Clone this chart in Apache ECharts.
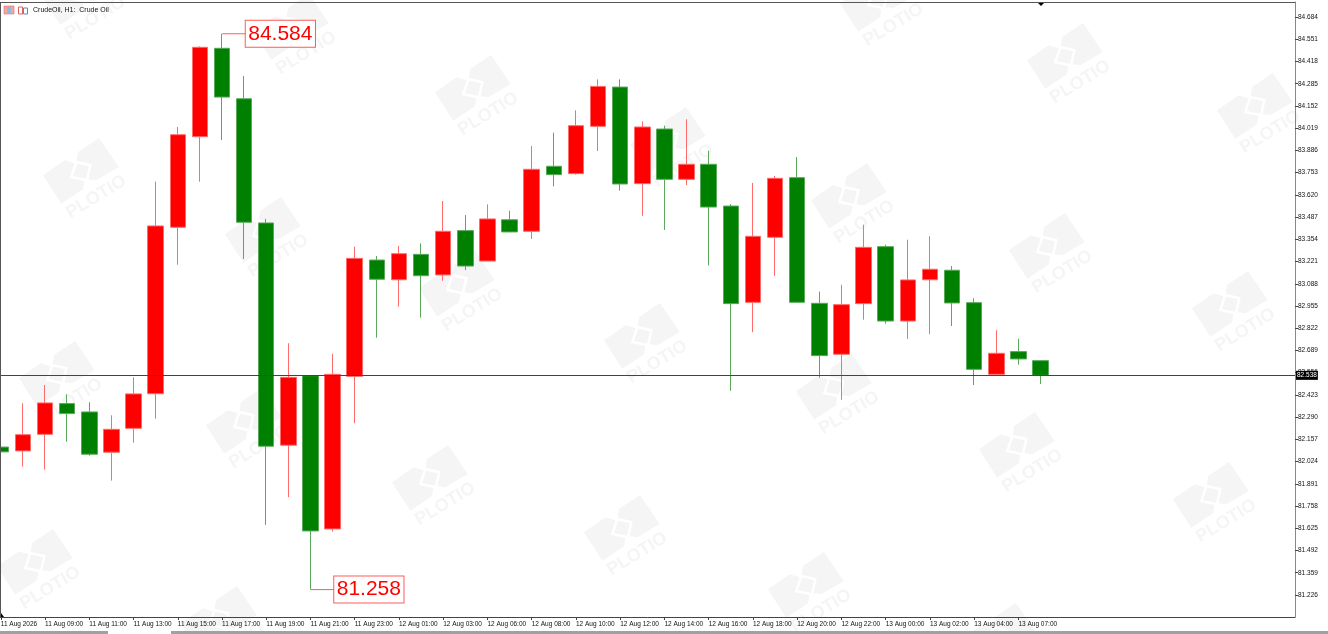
<!DOCTYPE html>
<html><head><meta charset="utf-8">
<style>html,body{margin:0;padding:0;background:#fff}#c{width:1328px;height:634px}</style>
<script src="https://cdn.jsdelivr.net/npm/echarts@6/dist/echarts.min.js"></script>
</head><body><div id="c"></div>
<script>
const categories = ["11 Aug 2026","11 Aug 08:00","11 Aug 09:00","11 Aug 10:00","11 Aug 11:00","11 Aug 12:00","11 Aug 13:00","11 Aug 14:00","11 Aug 15:00","11 Aug 16:00","11 Aug 17:00","11 Aug 18:00","11 Aug 19:00","11 Aug 20:00","11 Aug 21:00","11 Aug 22:00","11 Aug 23:00","12 Aug 00:00","12 Aug 01:00","12 Aug 02:00","12 Aug 03:00","12 Aug 04:00","12 Aug 06:00","12 Aug 07:00","12 Aug 08:00","12 Aug 09:00","12 Aug 10:00","12 Aug 11:00","12 Aug 12:00","12 Aug 13:00","12 Aug 14:00","12 Aug 15:00","12 Aug 16:00","12 Aug 17:00","12 Aug 18:00","12 Aug 19:00","12 Aug 20:00","12 Aug 21:00","12 Aug 22:00","12 Aug 23:00","13 Aug 00:00","13 Aug 01:00","13 Aug 02:00","13 Aug 03:00","13 Aug 04:00","13 Aug 06:00","13 Aug 07:00","13 Aug 08:00"];
const opens  = [82.111,82.088,82.187,82.371,82.321,82.080,82.223,82.430,83.426,83.968,84.497,84.195,83.452,82.122,82.538,81.621,82.534,83.230,83.112,83.264,83.141,83.406,83.224,83.471,83.402,83.791,83.747,84.030,84.265,83.687,84.014,83.713,83.803,83.553,82.977,83.366,83.723,82.971,82.666,82.969,83.310,82.865,83.112,83.169,82.975,82.546,82.682,82.628];
const closes = [82.082,82.185,82.375,82.311,82.068,82.217,82.429,83.434,83.980,84.503,84.205,83.456,82.116,82.528,81.609,82.546,83.240,83.115,83.268,83.136,83.402,83.194,83.476,83.398,83.773,83.741,84.034,84.269,83.685,84.026,83.713,83.803,83.547,82.969,83.372,83.719,82.977,82.658,82.963,83.306,82.865,83.111,83.175,82.973,82.576,82.672,82.638,82.540];
const lows   = [82.082,81.994,81.976,82.143,82.059,81.910,82.137,82.281,83.202,83.699,83.948,83.236,81.645,81.811,81.258,81.605,82.253,82.765,82.951,82.885,83.106,83.170,83.224,83.398,83.356,83.671,83.741,83.882,83.645,83.495,83.410,83.679,83.198,82.448,82.798,83.136,82.977,82.526,82.394,82.873,82.849,82.758,82.786,82.835,82.482,82.546,82.604,82.488];
const highs  = [82.111,82.373,82.482,82.427,82.379,82.301,82.528,83.699,84.026,84.509,84.584,84.331,83.476,82.732,82.538,82.668,83.310,83.254,83.314,83.330,83.583,83.499,83.563,83.525,83.912,83.992,84.126,84.311,84.311,84.060,84.034,84.072,83.884,83.565,83.691,83.733,83.846,83.041,83.082,83.441,83.322,83.352,83.372,83.194,83.001,82.810,82.759,82.628];
const priceTicks = [84.684,84.551,84.418,84.285,84.152,84.019,83.886,83.753,83.620,83.487,83.354,83.221,83.088,82.955,82.822,82.689,82.556,82.423,82.290,82.157,82.024,81.891,81.758,81.625,81.492,81.359,81.226];
const lastPrice = 82.538;
const highMark = { index: 10, value: 84.584 };
const lowMark  = { index: 14, value: 81.258 };
const titleText = "CrudeOil, H1:  Crude Oil";

const SPARE_SLOTS = 11;
const axisCats = categories.concat(new Array(SPARE_SLOTS).fill(""));
const candles = categories.map((_, i) => [opens[i], closes[i], lows[i], highs[i]]);
const lastLabelled = 46;
const everySecond = (i) => i <= lastLabelled && i % 2 === 0;

const FONT = '"Liberation Sans", Arial, sans-serif';
const WM = '#f5f5f5';
const wmAnchors = [[98,-41],[309,-6],[491,55],[686,107],[867,163],[1065,213],[1248,271],[896,-34],[1083,23],[1273,73],[99,138],[281,197],[475,251],[660,303],[852,354],[1035,412],[1229,462],[75,341],[262,388],[448,445],[640,495],[824,552],[1016,603],[53,529],[237,586]];
const wmOuter = [[0,0],[19.7,29],[-2.7,42.3],[-14.3,40.7],[-16,51.3],[-37.7,65.7],[-56,37.3],[-34.3,22.3],[-22.7,25.7],[-21,14]];
const wmInner = [[-22.7,24],[-8.7,27.3],[-12,42.3],[-27.7,39]];
const watermark = [];
wmAnchors.forEach(([x, y]) => {
  watermark.push({type:'polygon',x,y,z:0,silent:true,shape:{points:wmOuter},style:{fill:WM}});
  watermark.push({type:'polygon',x,y,z:0,silent:true,shape:{points:wmInner},style:{fill:WM,stroke:'#fff',lineWidth:2.5}});
  watermark.push({type:'text',x:x-2.7,y:y+59,z:0,silent:true,rotation:0.55,style:{text:'PLOTIO',font:'bold 18px '+FONT,fill:WM,align:'center',verticalAlign:'middle'}});
});
const chrome = [
  {type:'rect',z:10,silent:true,shape:{x:0,y:2,width:1295,height:1},style:{fill:'#555'}},
  {type:'rect',z:10,silent:true,shape:{x:0,y:2,width:1,height:615},style:{fill:'#555'}},
  {type:'rect',z:10,silent:true,shape:{x:0,y:631,width:108,height:3},style:{fill:'#a0a0a0'}},
  {type:'rect',z:10,silent:true,shape:{x:171,y:631,width:1157,height:3},style:{fill:'#a0a0a0'}},
  {type:'polygon',z:10,silent:true,shape:{points:[[1038,3],[1044,3],[1041,6]]},style:{fill:'#000'}},
  {type:'polygon',z:10,silent:true,shape:{points:[[1,613],[1,617],[4,617]]},style:{fill:'#000'}},
  {type:'rect',z:10,silent:true,shape:{x:4,y:6,width:10,height:8},style:{fill:'#f4a6a0',stroke:'#d9706a',lineWidth:0.6}},
  {type:'rect',z:10,silent:true,shape:{x:7,y:7,width:4,height:6},style:{fill:'#8fb8e0'}},
  {type:'rect',z:10,silent:true,shape:{x:18.5,y:7,width:4,height:7},style:{fill:'#fff',stroke:'#e0605a',lineWidth:1}},
  {type:'rect',z:10,silent:true,shape:{x:23.5,y:8,width:4,height:6},style:{fill:'#fff',stroke:'#4a90d0',lineWidth:1}},
  {type:'text',z:10,silent:true,x:33,y:10,style:{text:titleText,font:'7px '+FONT,fill:'#111',align:'left',verticalAlign:'middle'}}
];
const boxLabel = {
  show:true, position:'right', distance:0, color:'#ff0000', fontFamily:FONT, fontSize:21,
  backgroundColor:'#fff', borderColor:'#ff5a5a', borderWidth:1, padding:[3,2.5,3,2.5], lineHeight:20,
  formatter:(p)=>p.data.value.toFixed(3)
};
const chart = echarts.init(document.getElementById('c'),null,{renderer:'canvas'});
chart.setOption({
  animation:false, backgroundColor:'#fff',
  graphic:{elements:watermark.concat(chrome)},
  grid:{left:-10.3,right:33,top:2,bottom:17,containLabel:false,outerBoundsMode:'none'},
  xAxis:{type:'category',data:axisCats,boundaryGap:true,
    axisLine:{show:true,lineStyle:{color:'#444',width:1}},
    axisTick:{show:true,alignWithLabel:true,interval:(i)=>everySecond(i),length:3,lineStyle:{color:'#444'}},
    axisLabel:{show:true,interval:(i)=>everySecond(i),align:'left',margin:4,fontSize:6.5,fontFamily:FONT,color:'#111',hideOverlap:false},
    splitLine:{show:false}},
  yAxis:{type:'value',position:'right',min:81.094,max:84.774,scale:true,
    axisLine:{show:true,lineStyle:{color:'#888',width:1}},
    axisTick:{show:true,length:3,customValues:priceTicks,lineStyle:{color:'#444'}},
    axisLabel:{show:true,customValues:priceTicks,margin:3,fontSize:6.5,fontFamily:FONT,color:'#111',formatter:(v)=>v.toFixed(3)},
    splitLine:{show:false}},
  series:[{
    type:'candlestick',data:candles,barWidth:16,clip:true,z:3,
    itemStyle:{color:'#ff0000',color0:'#008000',borderColor:'#ff6a6a',borderColor0:'#5aa85a',borderWidth:1},
    markLine:{silent:true,symbol:'none',animation:false,z:5,
      lineStyle:{color:'#444',width:1,type:'solid'},
      label:{show:true,position:'end',distance:1,formatter:lastPrice.toFixed(3),backgroundColor:'#000',color:'#fff',fontSize:6.5,fontFamily:FONT,padding:[1,1,1,1]},
      data:[{yAxis:lastPrice}]},
    markPoint:{silent:true,animation:false,z:6,symbol:'rect',symbolSize:[23.5,1],symbolOffset:[12,0],
      itemStyle:{color:'#ff5a5a'},label:boxLabel,
      data:[{coord:[highMark.index,highMark.value],value:highMark.value},{coord:[lowMark.index,lowMark.value],value:lowMark.value}]}
  }]
});
</script></body></html>
